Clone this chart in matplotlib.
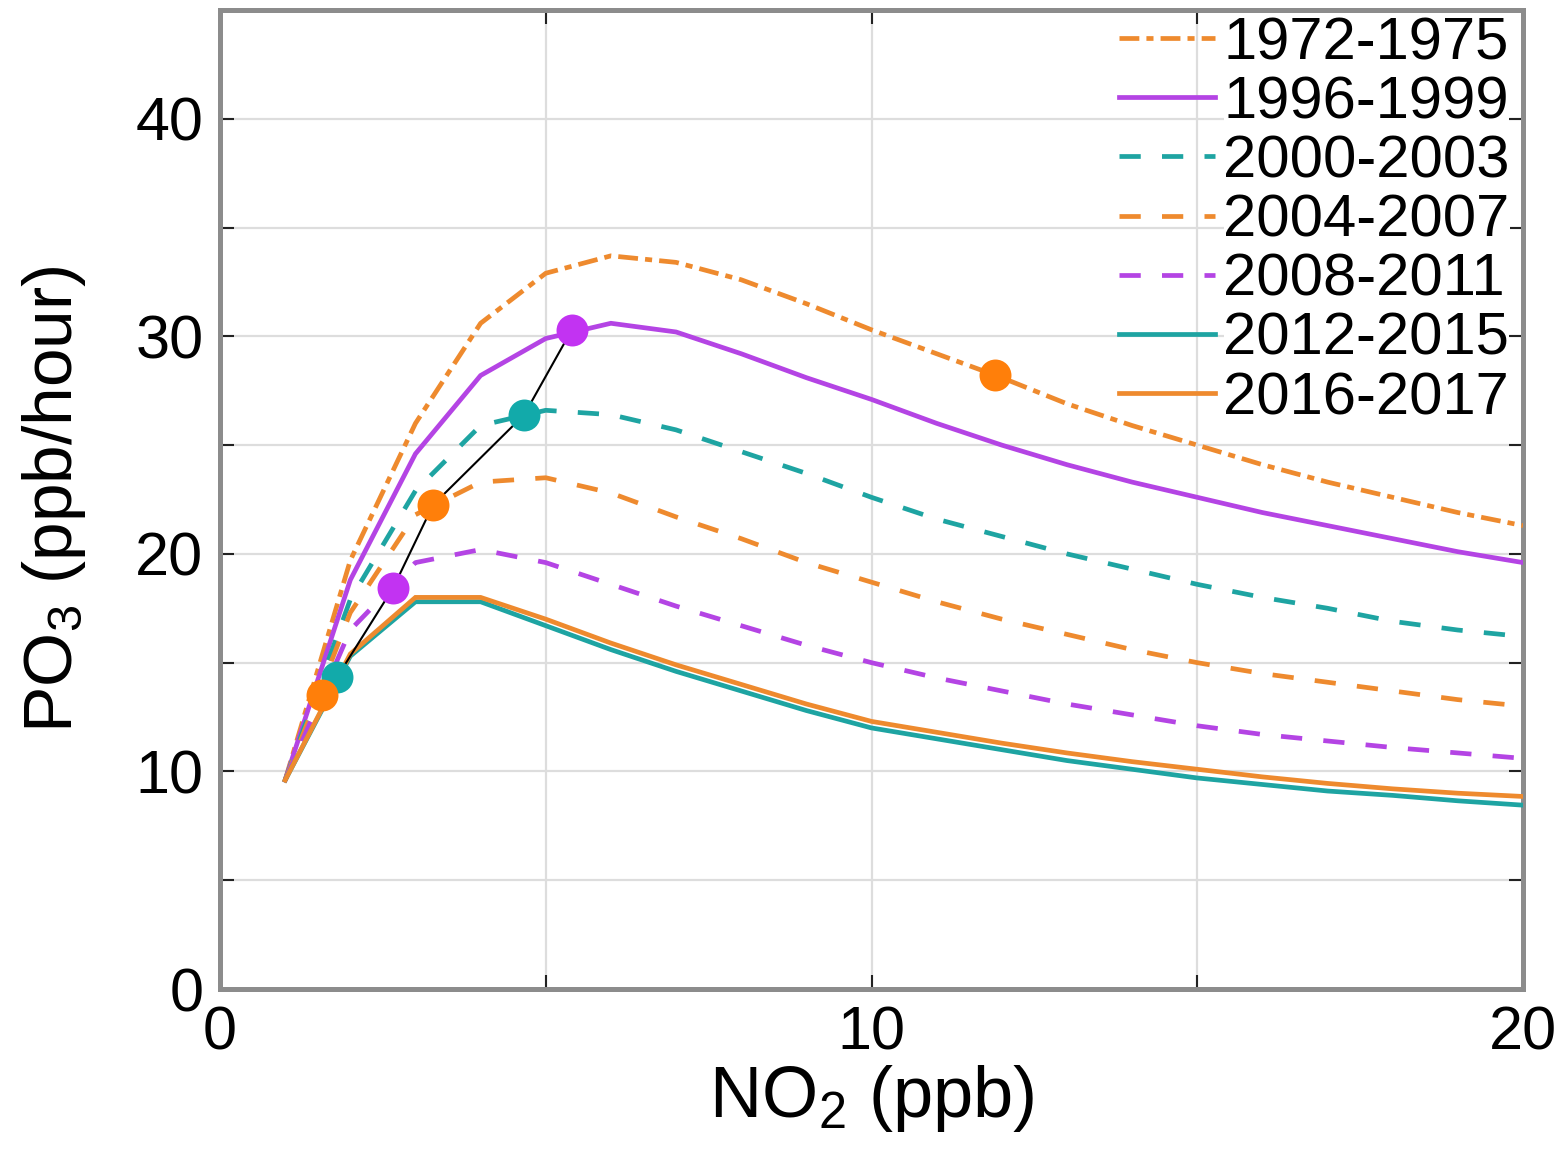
import matplotlib
matplotlib.use("Agg")
import matplotlib.pyplot as plt

plt.rcParams['font.family'] = ['Liberation Sans', 'DejaVu Sans']
plt.rcParams['mathtext.fontset'] = 'custom'
plt.rcParams['mathtext.rm'] = 'Liberation Sans'
plt.rcParams['mathtext.it'] = 'Liberation Sans:italic'

# NO2 grid (ppb)
no2 = [1, 2, 3, 4, 5, 6, 7, 8, 9, 10, 11, 12, 13, 14, 15, 16, 17, 18, 19, 20]

# Ozone production rate PO3 (ppb/hour) for each period
po3_1972 = [9.6, 19.7, 26.0, 30.6, 32.9, 33.7, 33.4, 32.6, 31.5, 30.3,
            29.2, 28.1, 26.9, 25.9, 25.0, 24.1, 23.3, 22.6, 21.9, 21.3]
po3_1996 = [9.6, 18.8, 24.6, 28.2, 29.9, 30.6, 30.2, 29.2, 28.1, 27.1,
            26.0, 25.0, 24.1, 23.3, 22.6, 21.9, 21.3, 20.7, 20.1, 19.6]
po3_2000 = [9.6, 17.9, 22.9, 25.9, 26.6, 26.4, 25.7, 24.7, 23.7, 22.6,
            21.6, 20.8, 20.0, 19.3, 18.6, 18.0, 17.5, 16.9, 16.5, 16.2]
po3_2004 = [9.6, 17.3, 21.8, 23.3, 23.5, 22.8, 21.7, 20.7, 19.6, 18.7,
            17.8, 17.0, 16.3, 15.6, 15.0, 14.5, 14.1, 13.7, 13.3, 13.0]
po3_2008 = [9.6, 16.5, 19.6, 20.2, 19.6, 18.6, 17.6, 16.7, 15.8, 15.0,
            14.3, 13.7, 13.1, 12.6, 12.1, 11.7, 11.4, 11.1, 10.85, 10.6]
po3_2012 = [9.6, 15.3, 17.8, 17.8, 16.7, 15.6, 14.6, 13.7, 12.8, 12.0,
            11.5, 11.0, 10.5, 10.1, 9.7, 9.4, 9.1, 8.9, 8.65, 8.45]
po3_2016 = [9.6, 15.4, 18.0, 18.0, 17.0, 15.9, 14.9, 14.0, 13.1, 12.3,
            11.8, 11.3, 10.85, 10.45, 10.1, 9.75, 9.45, 9.2, 9.0, 8.85]

periods = ['1972-1975', '1996-1999', '2000-2003', '2004-2007',
           '2008-2011', '2012-2015', '2016-2017']

# Period-mean NO2 and PO3 (markers)
mean_no2 = [11.9, 5.4, 4.67, 3.27, 2.66, 1.80, 1.57]
mean_po3 = [28.2, 30.3, 26.4, 22.25, 18.45, 14.35, 13.5]

x_ticks = [0, 5, 10, 15, 20]
x_ticklabels = ['0', '', '10', '', '20']
y_ticks = [0, 5, 10, 15, 20, 25, 30, 35, 40]
y_ticklabels = ['0', '', '10', '', '20', '', '30', '', '40']

ORANGE = '#EE8A2E'
PURPLE = '#B444E4'
TEAL = '#1EA4A2'
ORANGE_M = '#FF7F0A'
PURPLE_M = '#C233F2'
TEAL_M = '#12AAAA'

fig = plt.figure(figsize=(15.63, 11.61), dpi=100)
ax = fig.add_axes([220 / 1563, 1 - 989 / 1161, (1523 - 220) / 1563, (989 - 10) / 1161])

lw = 3.4
curves = [
    (po3_1972, ORANGE, (0, (4.2, 1.5, 1.5, 1.5))),
    (po3_1996, PURPLE, '-'),
    (po3_2000, TEAL, (0, (4.5, 4.5))),
    (po3_2004, ORANGE, (0, (4.5, 4.5))),
    (po3_2008, PURPLE, (0, (4.5, 4.5))),
    (po3_2012, TEAL, '-'),
    (po3_2016, ORANGE, '-'),
]
for (vals, col, ls), lab in zip(curves, periods):
    ax.plot(no2, vals, color=col, linestyle=ls, lw=lw, label=lab,
            solid_joinstyle='miter', zorder=3)

# Trajectory of period means from 1996 onward
ax.plot(mean_no2[1:], mean_po3[1:], color='black', lw=1.5, zorder=4)
marker_cols = [ORANGE_M, PURPLE_M, TEAL_M, ORANGE_M, PURPLE_M, TEAL_M, ORANGE_M]
for xv, yv, c in zip(mean_no2, mean_po3, marker_cols):
    ax.plot(xv, yv, 'o', ms=23, color=c, mec='none', zorder=5)

ax.set_xlim(0, 20)
ax.set_ylim(0, 45)
ax.set_xticks(x_ticks)
ax.set_xticklabels(x_ticklabels)
ax.set_yticks(y_ticks)
ax.set_yticklabels(y_ticklabels)
ax.grid(True, color='#DDDDDD', lw=1.6, zorder=0)
ax.set_axisbelow(True)
ax.tick_params(direction='in', length=10, width=1.5, color='#222222',
               labelsize=44, top=True, right=True, pad=12)
for sp in ax.spines.values():
    sp.set_color('#8C8C8C')
    sp.set_linewidth(3.6)

ax.set_xlabel('NO$_2$ (ppb)', fontsize=52, labelpad=0)
ax.set_ylabel('PO$_3$ (ppb/hour)', fontsize=50, labelpad=34)

leg = ax.legend(loc='upper right', bbox_to_anchor=(1510 / 1563, 1 - 16 / 1161),
                bbox_transform=fig.transFigure, frameon=False, fontsize=43,
                handlelength=1.6, handletextpad=0.15, labelspacing=0.07,
                borderpad=0.0, borderaxespad=0.0)
for t in leg.get_texts():
    t.set_bbox(dict(facecolor='white', edgecolor='none', pad=0))

fig.savefig('out.png', dpi=100)
